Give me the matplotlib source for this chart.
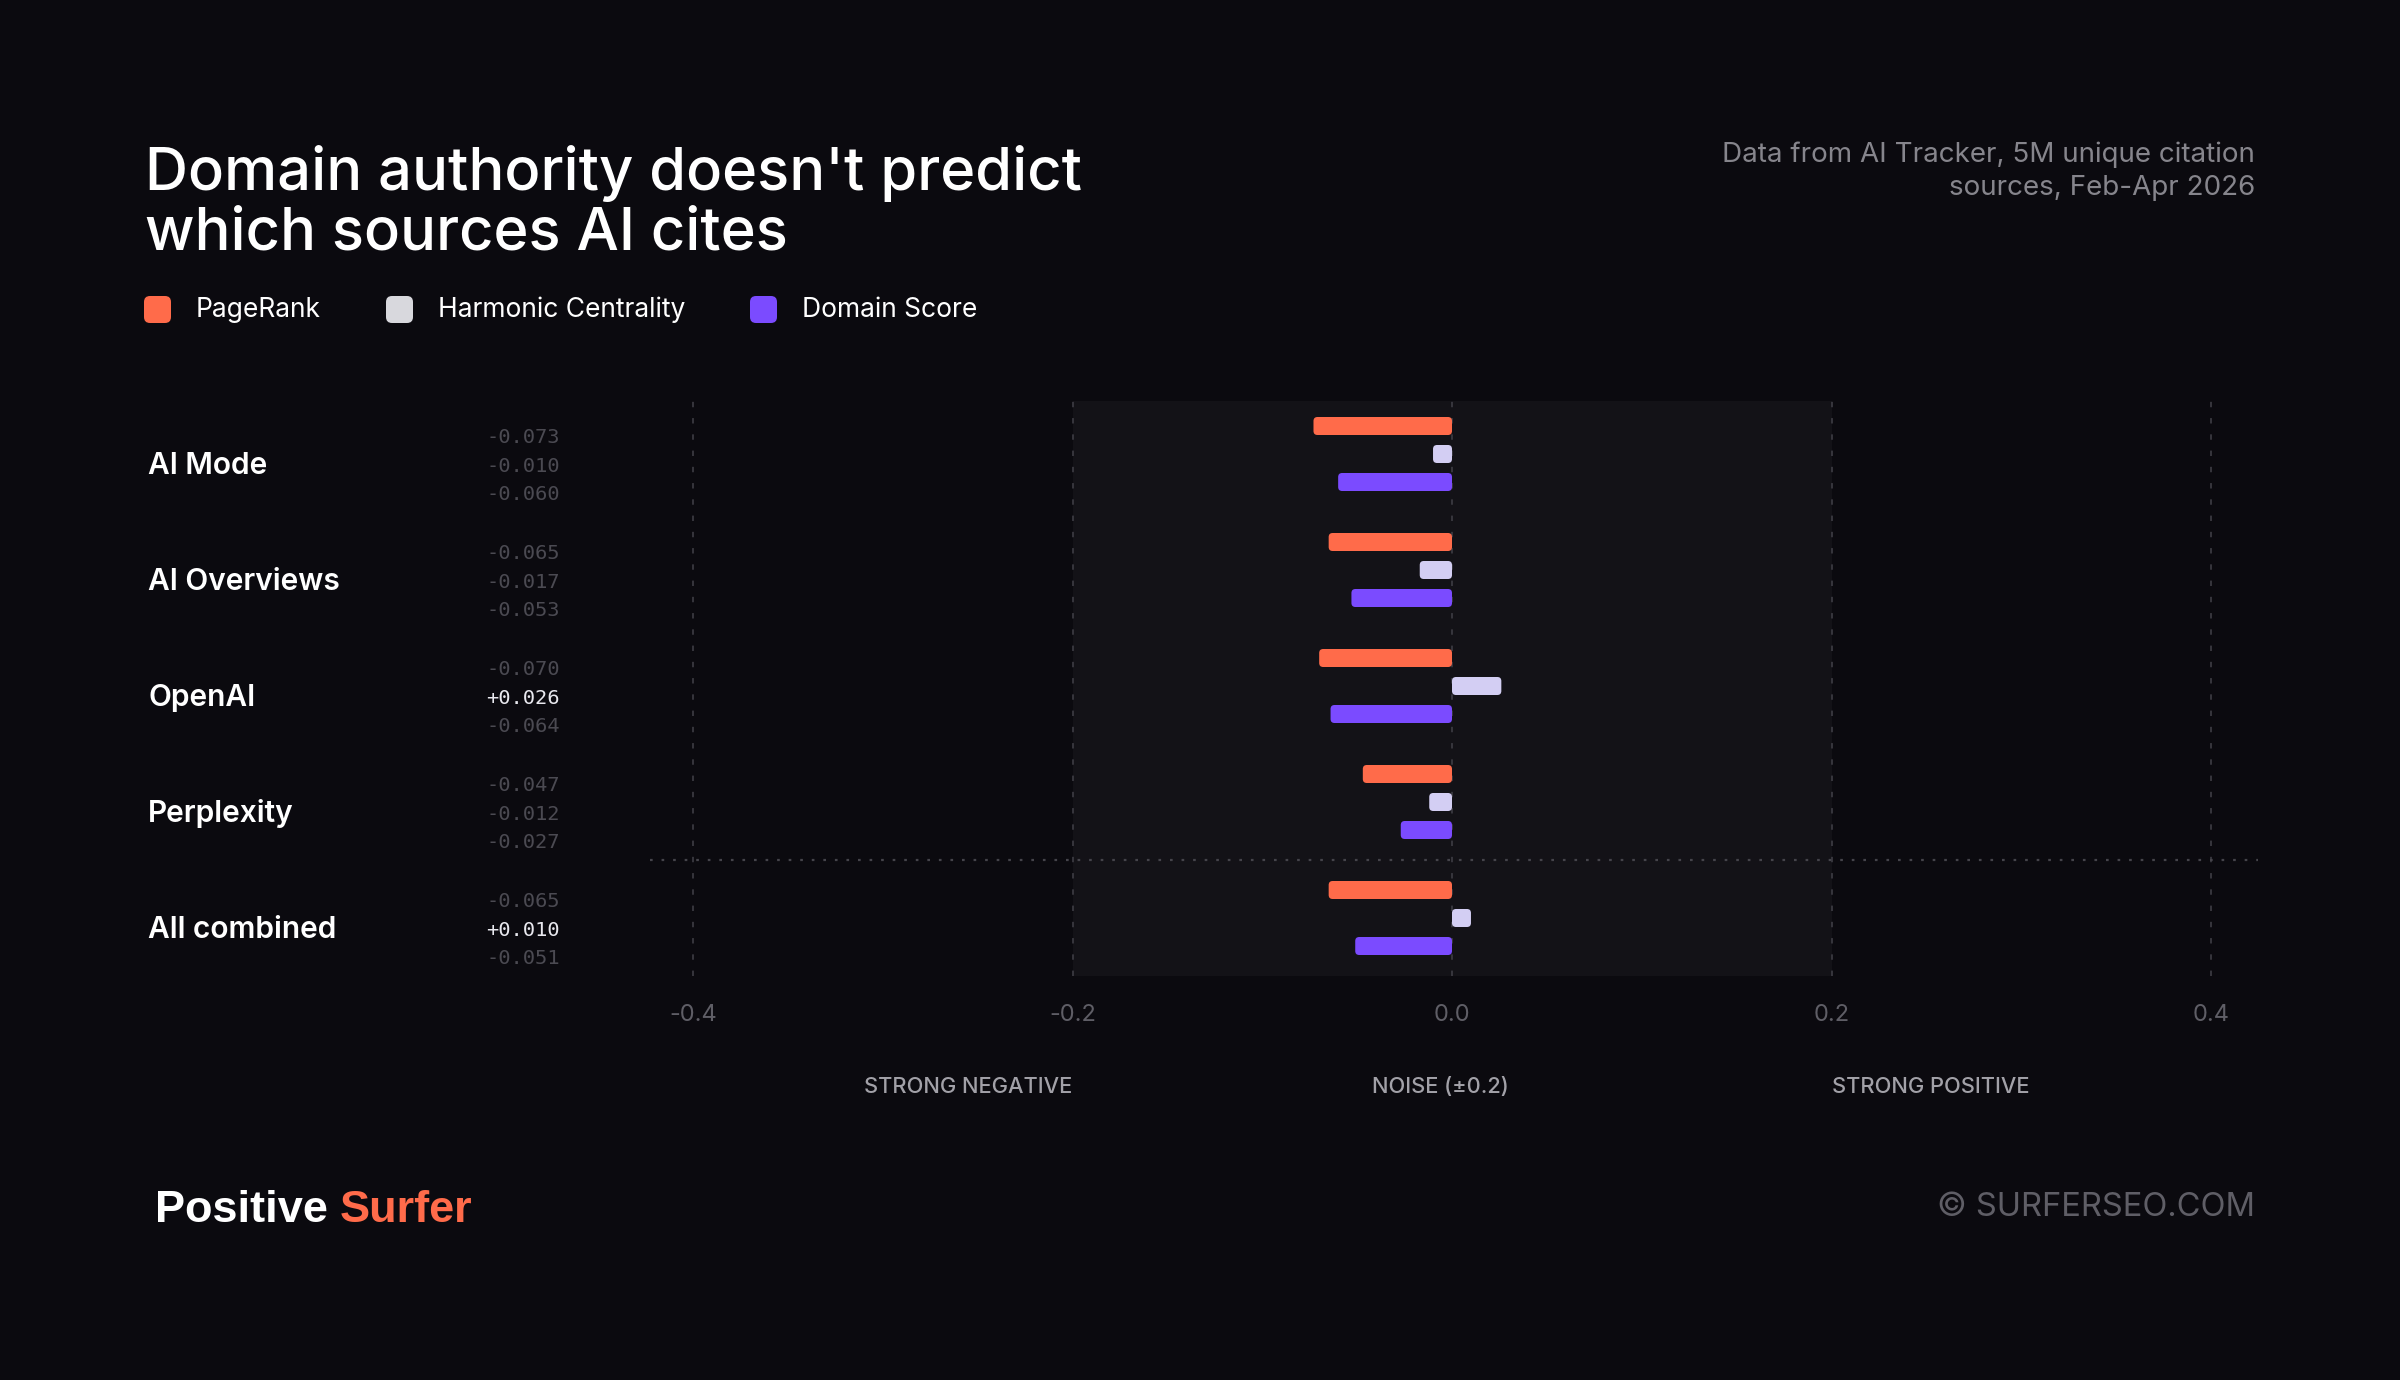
import matplotlib
matplotlib.use("Agg")
import matplotlib.pyplot as plt
from matplotlib.patches import FancyBboxPatch
import numpy as np

# ---------------- data ----------------
platforms = ["AI Mode", "AI Overviews", "OpenAI", "Perplexity", "All combined"]
series_names = ["PageRank", "Harmonic Centrality", "Domain Score"]
pagerank = [-0.073, -0.065, -0.070, -0.047, -0.065]
harmonic = [-0.010, -0.017, 0.026, -0.012, 0.010]
domain_score = [-0.060, -0.053, -0.064, -0.027, -0.051]
xticks = [-0.4, -0.2, 0.0, 0.2, 0.4]
xtick_labels = ["-0.4", "-0.2", "0.0", "0.2", "0.4"]
zone_labels = ["STRONG NEGATIVE", "NOISE (\u00b10.2)", "STRONG POSITIVE"]
title_lines = ["Domain authority doesn't predict", "which sources AI cites"]
subtitle_lines = ["Data from AI Tracker, 5M unique citation", "sources, Feb-Apr 2026"]

# ---------------- style ----------------
BG = "#0b0a0f"
BAND = "#131217"
GRID = "#3a3940"
C_PR = "#ff6b4a"
C_HC = "#d3cef3"
C_DS = "#7b4bff"
C_HC_LEG = "#d8d8dd"
series_vals = [pagerank, harmonic, domain_score]
series_cols = [C_PR, C_HC, C_DS]
legend_cols = [C_PR, C_HC_LEG, C_DS]

W, H = 2400, 1380
fig = plt.figure(figsize=(W / 100, H / 100), dpi=100, facecolor=BG)

# overlay axes in pixel coordinates for free text
ov = fig.add_axes([0, 0, 1, 1], zorder=5)
ov.set_xlim(0, W)
ov.set_ylim(H, 0)
ov.axis("off")
ov.patch.set_alpha(0)

# main chart axes
ax_l, ax_r, ax_t, ax_b = 650, 2258, 401, 976
ax = fig.add_axes([ax_l / W, 1 - ax_b / H, (ax_r - ax_l) / W, (ax_b - ax_t) / H], zorder=2)
ax.patch.set_alpha(0)

# x scale: -0.4 at 693 px, 0.4 at 2211 px
x_lo_px, x_hi_px = 693, 2211
ppu = (x_hi_px - x_lo_px) / 0.8
ax.set_xlim(-0.4 - (x_lo_px - ax_l) / ppu, 0.4 + (ax_r - x_hi_px) / ppu)
row_px = 116.0
first_center = 454
ax.set_ylim((ax_b - first_center) / row_px, -(first_center - ax_t) / row_px)

for s in ax.spines.values():
    s.set_visible(False)
ax.set_yticks([])
ax.set_xticks(xticks)
ax.set_xticklabels(xtick_labels, fontfamily="Inter", fontsize=17, color="#5f5e66")
ax.tick_params(axis="x", length=0, pad=20)

# noise band
ax.axvspan(-0.2, 0.2, color=BAND, zorder=0, lw=0)
# vertical dashed gridlines
for xv in xticks:
    ax.axvline(xv, color=GRID, lw=1.3, ls=(0, (3, 6)), zorder=1)
# separator before combined row
ax.axhline(len(platforms) - 1.5, color="#45444b", lw=1.6, ls=(0, (1.2, 4)), zorder=1)

# bars with rounded corners
off = 28 / row_px
bh = 18 / row_px
asp = ppu / row_px
rad_px = 4.0
for i in range(len(platforms)):
    for k, (vals, col) in enumerate(zip(series_vals, series_cols)):
        v = vals[i]
        yc = i + (k - 1) * off
        x0 = min(0, v)
        w = abs(v)
        r = min(rad_px / ppu, w / 2)
        p = FancyBboxPatch((x0, yc - bh / 2), w, bh,
                           boxstyle=f"round,pad=0,rounding_size={r}",
                           mutation_aspect=asp, fc=col, ec="none", zorder=3)
        ax.add_patch(p)

# row labels and value labels (pixel overlay)
lab_dy = 12
for i, name in enumerate(platforms):
    yc = first_center + i * row_px + lab_dy
    ov.text(148, yc, name, fontfamily="Inter", fontweight="semibold", fontsize=21.5,
            color="white", va="center", ha="left")
    for k, vals in enumerate(series_vals):
        v = vals[i]
        s = f"{v:+.3f}"
        col = "#e9e9ef" if v > 0 else "#4b4a52"
        ov.text(560, yc + (k - 1) * 28.5, s, fontfamily="DejaVu Sans Mono", fontsize=14.7,
                color=col, va="center", ha="right")

# title
for j, line in enumerate(title_lines):
    ov.text(145, 190 + j * 60, line, fontfamily="Inter", fontweight="medium", fontsize=43,
            color="white", va="baseline", ha="left")

# subtitle
for j, line in enumerate(subtitle_lines):
    ov.text(2255, 155 + j * 33, line, fontfamily="Inter", fontsize=20, color="#86858c",
            va="center", ha="right")

# legend
leg_x = [144, 386, 750]
for name, col, lx in zip(series_names, legend_cols, leg_x):
    sq = FancyBboxPatch((lx, 296), 27, 27, boxstyle="round,pad=0,rounding_size=6",
                        fc=col, ec="none")
    ov.add_patch(sq)
    ov.text(lx + 52, 310, name, fontfamily="Inter", fontsize=19, color="white",
            va="center", ha="left")

# zone labels
zone_y = 1087
ov.text(x_lo_px + (-0.2 + 0.4) * ppu, zone_y, zone_labels[0], fontfamily="Inter", fontweight="medium",
        fontsize=15.7, color="#a2a1a8", va="center", ha="right")
ov.text(1440, zone_y, zone_labels[1], fontfamily="Inter", fontweight="medium",
        fontsize=15.7, color="#a2a1a8", va="center", ha="center")
ov.text(x_lo_px + (0.2 + 0.4) * ppu, zone_y, zone_labels[2], fontfamily="Inter", fontweight="medium",
        fontsize=15.7, color="#a2a1a8", va="center", ha="left")

# footer brand
t1 = ov.text(155, 1222, "Positive", fontfamily="Liberation Sans", fontweight="bold", fontsize=32.5,
             color="white", va="baseline", ha="left")
fig.canvas.draw()
bb = t1.get_window_extent(renderer=fig.canvas.get_renderer())
x_end = bb.x1
ov.text(x_end + 12, 1222, "Surfer", fontfamily="Liberation Sans", fontweight="bold", fontsize=32.5,
        color=C_PR, va="baseline", ha="left")

ov.text(2255, 1207, "\u00a9 SURFERSEO.COM", fontfamily="Inter", fontsize=23.5, color="#5f5e66",
        va="center", ha="right")

fig.savefig("out.png", dpi=100, facecolor=BG)
